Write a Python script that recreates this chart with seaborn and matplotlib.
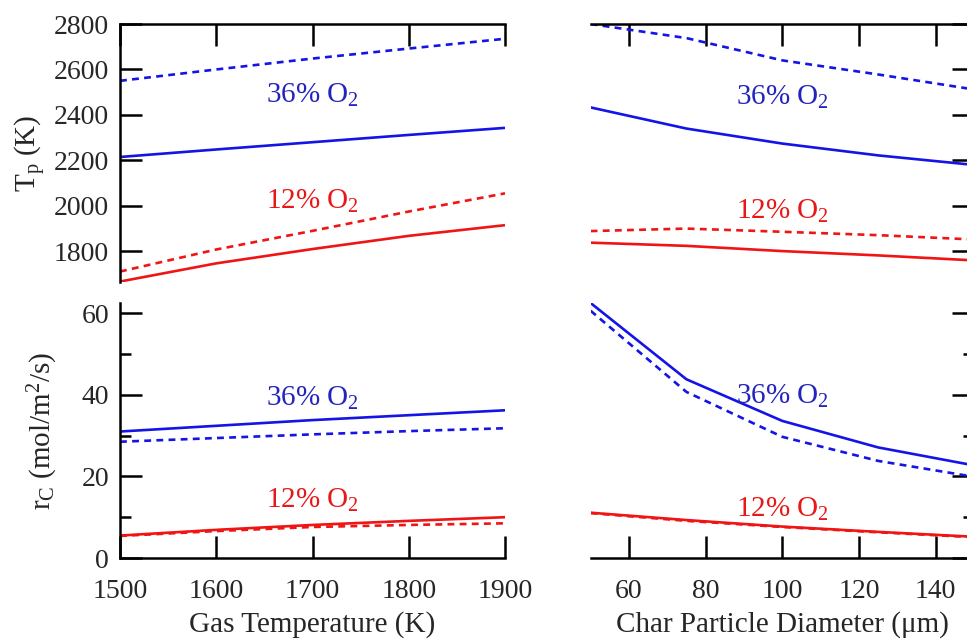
import numpy as np
import pandas as pd
import matplotlib
matplotlib.use("Agg")
import matplotlib.pyplot as plt
import seaborn as sns

# ---------------- data ----------------
gas_T = [1500, 1600, 1700, 1800, 1900]
tp_36_solid_T = [2215, 2248, 2280, 2312, 2343]
tp_36_dash_T = [2550, 2600, 2648, 2692, 2735]
tp_12_solid_T = [1667, 1747, 1810, 1868, 1915]
tp_12_dash_T = [1711, 1808, 1890, 1975, 2055]

rc_36_solid_T = [31.0, 32.4, 33.8, 35.0, 36.2]
rc_36_dash_T = [28.5, 29.4, 30.3, 31.1, 31.8]
rc_12_solid_T = [5.5, 6.9, 8.1, 9.1, 10.0]
rc_12_dash_T = [5.4, 6.6, 7.6, 8.1, 8.5]

diam = [50, 75, 100, 125, 150]
tp_36_solid_d = [2433, 2340, 2274, 2222, 2180]
tp_36_dash_d = [2800, 2738, 2640, 2578, 2512]
tp_12_solid_d = [1838, 1824, 1801, 1782, 1760]
tp_12_dash_d = [1889, 1900, 1886, 1871, 1852]

rc_36_solid_d = [62.5, 43.8, 33.6, 27.1, 22.7]
rc_36_dash_d = [60.6, 40.7, 29.7, 23.8, 19.9]
rc_12_solid_d = [11.1, 9.3, 7.7, 6.4, 5.2]
rc_12_dash_d = [11.0, 9.1, 7.6, 6.3, 5.1]

series_labels = ["36% O$_2$", "12% O$_2$"]

BLUE = "#1414e6"
RED = "#f01414"
TXT_BLUE = "#2424bc"
TXT_RED = "#e81818"

sns.set_style("white")
plt.rcParams["font.family"] = ["Liberation Serif", "DejaVu Serif"]
plt.rcParams["mathtext.fontset"] = "custom"
plt.rcParams["mathtext.rm"] = "Liberation Serif"
plt.rcParams["mathtext.it"] = "Liberation Serif:italic"
plt.rcParams["mathtext.bf"] = "Liberation Serif:bold"


def make_df(x, s36, d36, s12, d12):
    rows = []
    for o2, kind, vals in [("36", "solid", s36), ("36", "dash", d36),
                           ("12", "solid", s12), ("12", "dash", d12)]:
        for xi, v in zip(x, vals):
            rows.append({"x": xi, "y": v, "o2": o2, "kind": kind})
    return pd.DataFrame(rows)


fig = plt.figure(figsize=(9.67, 6.43), dpi=100)
W, H = 967.0, 643.0


def axes_px(x0, y0, x1, y1):
    return fig.add_axes([x0 / W, 1 - y1 / H, (x1 - x0) / W, (y1 - y0) / H])


ax_tl = axes_px(120, 24, 505, 282)
ax_bl = axes_px(120, 303, 505, 558)
ax_tr = axes_px(590.6, 24, 974, 282)
ax_br = axes_px(590.6, 303, 974, 558)

panels = [
    (ax_tl, make_df(gas_T, tp_36_solid_T, tp_36_dash_T, tp_12_solid_T, tp_12_dash_T)),
    (ax_bl, make_df(gas_T, rc_36_solid_T, rc_36_dash_T, rc_12_solid_T, rc_12_dash_T)),
    (ax_tr, make_df(diam, tp_36_solid_d, tp_36_dash_d, tp_12_solid_d, tp_12_dash_d)),
    (ax_br, make_df(diam, rc_36_solid_d, rc_36_dash_d, rc_12_solid_d, rc_12_dash_d)),
]

for ax, df in panels:
    sns.lineplot(data=df, x="x", y="y", hue="o2", style="kind",
                 palette={"36": BLUE, "12": RED},
                 dashes={"solid": (1, 0), "dash": (2.6, 2.0)},
                 style_order=["solid", "dash"],
                 linewidth=1.9, ax=ax, legend=False, sort=False,
                 estimator=None)
    ax.set_xlabel("")
    ax.set_ylabel("")
    ax.set_facecolor("none")

LW = 1.8
for ax in (ax_tl, ax_bl):
    ax.set_xlim(1500, 1900)
    ax.set_xticks([1500, 1600, 1700, 1800, 1900])
for ax in (ax_tr, ax_br):
    ax.set_xlim(50, 150)
    ax.set_xticks([60, 80, 100, 120, 140])
for ax in (ax_tl, ax_tr):
    ax.set_ylim(1665, 2800)
    ax.set_yticks([1800, 2000, 2200, 2400, 2600, 2800])
for ax in (ax_bl, ax_br):
    ax.set_ylim(0, 62.5)
    ax.set_yticks([0, 20, 40, 60])
    ax.set_yticks([10, 30, 50], minor=True)

for ax in (ax_tl, ax_bl, ax_tr, ax_br):
    for s in ax.spines.values():
        s.set_linewidth(LW)
        s.set_color("black")
        s.set_visible(False)
    ax.tick_params(which="both", direction="in", width=LW, color="black",
                   labelsize=20, top=False, bottom=False, left=False, right=False,
                   labeltop=False, labelbottom=False, labelleft=False, labelright=False)
    ax.tick_params(which="major", length=16)
    ax.tick_params(which="minor", length=8)

# top-left
ax_tl.spines["top"].set_visible(True)
ax_tl.spines["left"].set_visible(True)
ax_tl.tick_params(top=True, left=True, labelleft=True, pad=8)
# bottom-left
ax_bl.spines["bottom"].set_visible(True)
ax_bl.spines["left"].set_visible(True)
ax_bl.tick_params(which="both", bottom=True, left=True)
ax_bl.tick_params(labelleft=True, labelbottom=True, pad=8)
ax_bl.tick_params(axis="x", pad=15)
# top-right
ax_tr.spines["top"].set_visible(True)
ax_tr.spines["right"].set_visible(True)
ax_tr.tick_params(top=True, right=True)
# bottom-right
ax_br.spines["bottom"].set_visible(True)
ax_br.spines["right"].set_visible(True)
ax_br.tick_params(which="both", bottom=True, right=True)
ax_br.tick_params(labelbottom=True)
ax_br.tick_params(axis="x", pad=15)

ax_bl.set_xlabel("Gas Temperature (K)", fontsize=21, labelpad=5)
ax_br.set_xlabel("Char Particle Diameter (\u03bcm)", fontsize=21, labelpad=5)
ax_tl.set_ylabel("T$_\\mathrm{p}$ (K)", fontsize=21, labelpad=4)
ax_bl.set_ylabel("r$_\\mathrm{C}$ (mol/m$^2$/s)", fontsize=21, labelpad=15)

# annotations (in data coords)
ann = [
    (ax_tl, 1700, 2485, series_labels[0], TXT_BLUE),
    (ax_tl, 1700, 2020, series_labels[1], TXT_RED),
    (ax_tr, 100, 2476, series_labels[0], TXT_BLUE),
    (ax_tr, 100, 1975, series_labels[1], TXT_RED),
    (ax_bl, 1700, 39.2, series_labels[0], TXT_BLUE),
    (ax_bl, 1700, 14.2, series_labels[1], TXT_RED),
    (ax_br, 100, 39.7, series_labels[0], TXT_BLUE),
    (ax_br, 100, 11.8, series_labels[1], TXT_RED),
]
for ax, x, y, t, c in ann:
    ax.text(x, y, t, color=c, fontsize=21, ha="center", va="center")

fig.savefig("out.png", dpi=100)
